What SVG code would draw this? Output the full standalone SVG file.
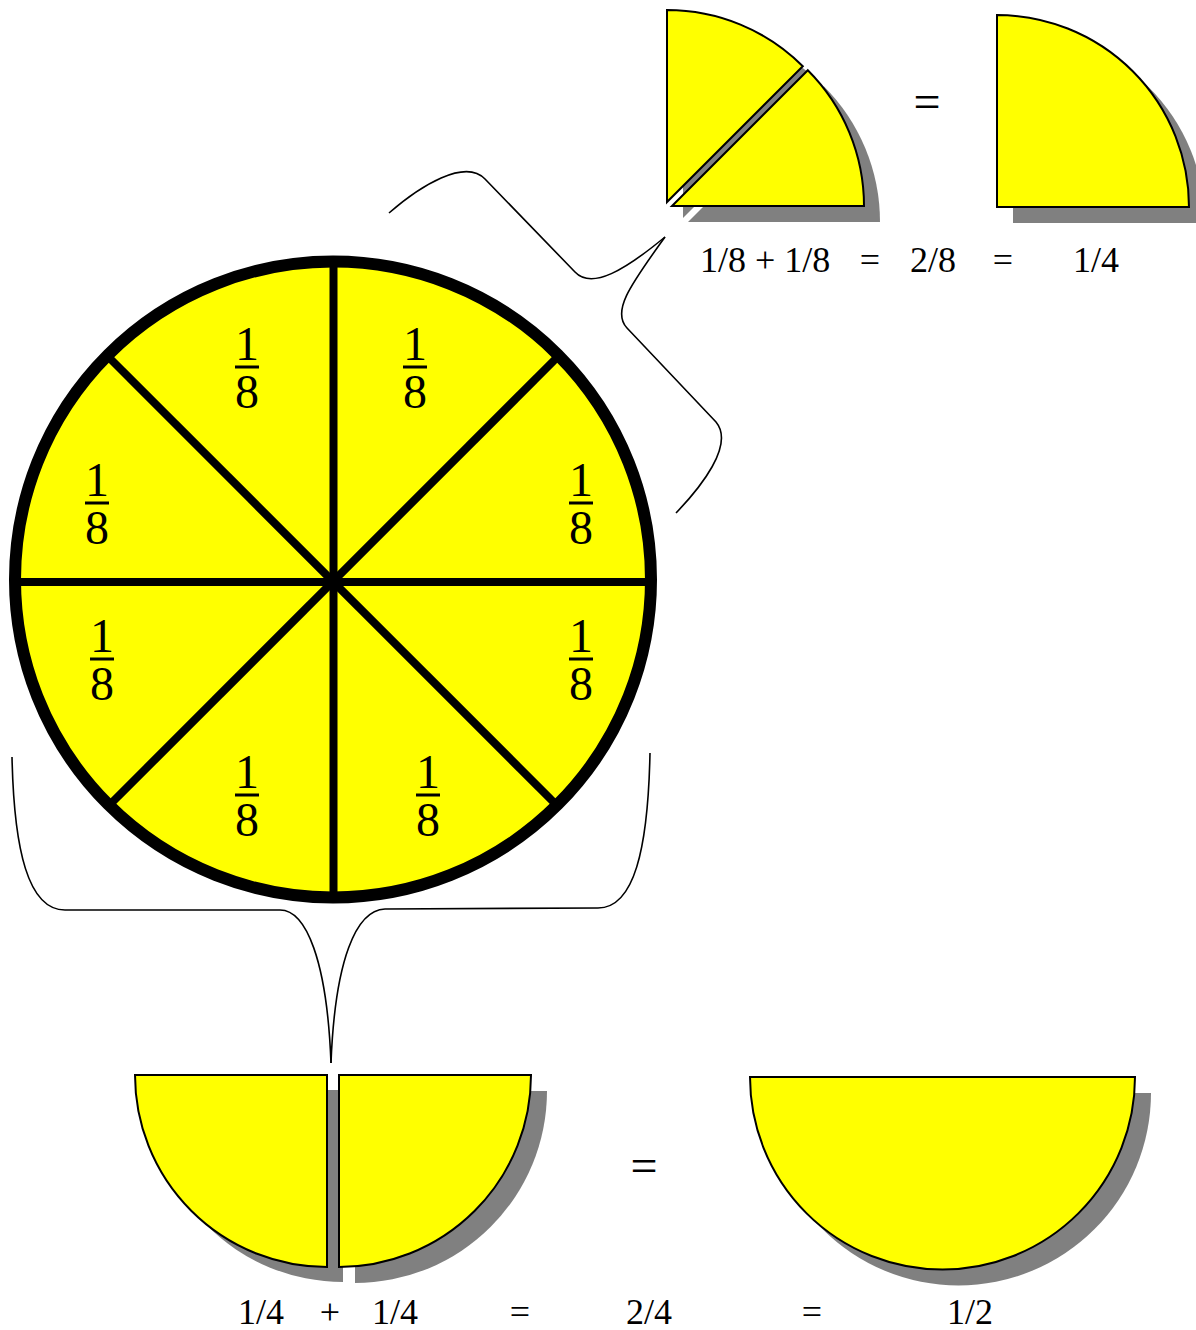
<svg xmlns="http://www.w3.org/2000/svg" width="1196" height="1330" viewBox="0 0 1196 1330">
<style>
.piece{fill:#ffff00;stroke:#000;stroke-width:2;stroke-linejoin:miter}
.shadow{fill:#808080;stroke:none}
.spoke{stroke:#000;stroke-width:8;fill:none}
.brace{fill:none;stroke:#000;stroke-width:1.6}
.t{font-family:"Liberation Serif","Times New Roman",serif;fill:#000}
.frac{font-size:48px;text-anchor:middle}
.eq{font-size:36px}
.bar{stroke:#000;stroke-width:3}
</style>
<defs>
<g id="f18">
<text class="t frac" x="0" y="0">1</text>
<line class="bar" x1="-12" y1="7" x2="12" y2="7"/>
<text class="t frac" x="0" y="48">8</text>
</g>
</defs>

<g id="circle">
<circle cx="333" cy="579.5" r="318" fill="#ffff00" stroke="#000" stroke-width="12"/>
<line class="spoke" x1="333.5" y1="262" x2="333.5" y2="898"/>
<line class="spoke" x1="15" y1="582" x2="652" y2="582"/>
<line class="spoke" x1="108" y1="356.5" x2="558" y2="806.5"/>
<line class="spoke" x1="558" y1="356.5" x2="108" y2="806.5"/>
<use href="#f18" x="247" y="360"/>
<use href="#f18" x="415" y="360"/>
<use href="#f18" x="97" y="496"/>
<use href="#f18" x="581" y="496"/>
<use href="#f18" x="102" y="652"/>
<use href="#f18" x="581" y="652"/>
<use href="#f18" x="247" y="788"/>
<use href="#f18" x="428" y="788"/>
</g>

<g id="eighths-pair">
<path class="shadow" d="M 683,218 L 683,26 A 192,192 0 0 1 818.8,82.2 Z"/>
<path class="shadow" d="M 688,222 L 823.8,86.2 A 192,192 0 0 1 880,222 Z"/>
<path class="piece" d="M 667,202 L 667,10 A 192,192 0 0 1 802.8,66.2 Z"/>
<path class="piece" d="M 672,206 L 807.8,70.2 A 192,192 0 0 1 864,206 Z"/>
</g>

<g id="quarter-top">
<path class="shadow" d="M 1013,223 L 1013,31 A 192,192 0 0 1 1205,223 Z"/>
<path class="piece" d="M 997,207 L 997,15 A 192,192 0 0 1 1189,207 Z"/>
</g>

<g id="quarters-pair">
<path class="shadow" d="M 343,1090 L 151,1090 A 192,192 0 0 0 343,1282 Z"/>
<path class="shadow" d="M 355,1091 L 355,1283 A 192,192 0 0 0 547,1091 Z"/>
<path class="piece" d="M 327,1075 L 135,1075 A 192,192 0 0 0 327,1267 Z"/>
<path class="piece" d="M 339,1075 L 339,1267 A 192,192 0 0 0 531,1075 Z"/>
</g>

<g id="half">
<path class="shadow" d="M 766,1093 L 1151,1093 A 192.5,192.5 0 0 1 766,1093 Z"/>
<path class="piece" d="M 750,1077 L 1135,1077 A 192.5,192.5 0 0 1 750,1077 Z"/>
</g>

<g id="connectors">
<path class="brace" d="M 389,213 C 420,186 465,158 485,179 L 575,272 C 592,290 625,270 665,237"/>
<path class="brace" d="M 676,513 C 700,488 735,445 716,422 L 627,328 C 612,312 628,288 665,237"/>
<path class="brace" d="M 12,757 C 14,850 28,910 65,910 L 280,910 C 306,910 327,960 331,1063"/>
<path class="brace" d="M 650,753 C 648,850 634,908 598,908 L 385,909 C 356,910 335,960 331,1063"/>
</g>

<g id="labels">
<text class="t" font-size="48" x="927" y="118" text-anchor="middle">=</text>
<text class="t" font-size="48" x="644" y="1182" text-anchor="middle">=</text>
<text class="t eq" x="700" y="272">1/8 + 1/8</text>
<text class="t eq" x="870" y="272" text-anchor="middle">=</text>
<text class="t eq" x="910" y="272">2/8</text>
<text class="t eq" x="1003" y="272" text-anchor="middle">=</text>
<text class="t eq" x="1073" y="272">1/4</text>
<text class="t eq" x="238" y="1324">1/4</text>
<text class="t eq" x="330" y="1324" text-anchor="middle">+</text>
<text class="t eq" x="372" y="1324">1/4</text>
<text class="t eq" x="520" y="1324" text-anchor="middle">=</text>
<text class="t eq" x="626" y="1324">2/4</text>
<text class="t eq" x="812" y="1324" text-anchor="middle">=</text>
<text class="t eq" x="947" y="1324">1/2</text>
</g>
</svg>
